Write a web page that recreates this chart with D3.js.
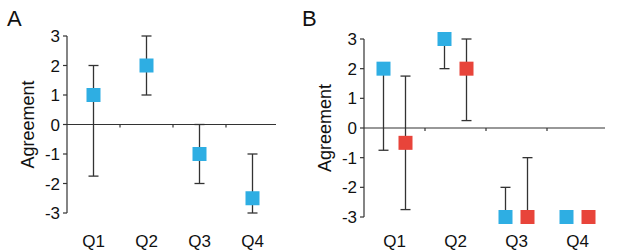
<!DOCTYPE html>
<html lang="en">
<head>
  <meta charset="UTF-8">
  <title>Agreement</title>
  <script src="https://d3js.org/d3.v7.min.js"></script>
  <style>
    body { margin: 0; background: #fff; }
    text { font-family: "Liberation Sans", Arial, sans-serif; fill: #111; }
  </style>
</head>
<body>
  <svg width="617" height="252"></svg>

  <script>
    // Data
    const questions = ["Q1", "Q2", "Q3", "Q4"];
    const yTicks = [-3, -2, -1, 0, 1, 2, 3];

    // Panel A: one series
    const meanA = [1, 2, -1, -2.5];
    const lowA  = [-1.75, 1, -2, -3];
    const highA = [2, 3, 0, -1];

    // Panel B: two series
    const meanBlue = [2, 3, -3, -3];
    const lowBlue  = [-0.75, 2, -3, -3];
    const highBlue = [2, 3, -2, -3];
    const meanRed = [-0.5, 2, -3, -3];
    const lowRed  = [-2.75, 0.25, -3, -3];
    const highRed = [1.75, 3, -1, -3];

    const blue = "#2eaee3", red = "#e8443a";
    const svg = d3.select("svg");

    function panel(opts) {
      const g = svg.append("g");
      const x = d3.scaleBand().domain(questions).range([opts.x0, opts.x1]);
      const y = d3.scaleLinear().domain([-3, 3]).range([opts.yBot, opts.yTop]);

      // y axis
      g.append("line")
        .attr("x1", opts.x0).attr("x2", opts.x0)
        .attr("y1", y(3)).attr("y2", y(-3))
        .attr("stroke", "#333").attr("stroke-width", 1.2);
      g.selectAll(".ytick").data(yTicks).enter().append("line")
        .attr("x1", opts.x0 - 4).attr("x2", opts.x0)
        .attr("y1", d => y(d)).attr("y2", d => y(d))
        .attr("stroke", "#333").attr("stroke-width", 1.2);
      g.selectAll(".ylab").data(yTicks).enter().append("text")
        .attr("x", opts.x0 - 7).attr("y", d => y(d) + 6)
        .attr("text-anchor", "end")
        .style("font-size", "17px")
        .text(d => d);

      // zero line with category ticks
      g.append("line")
        .attr("x1", opts.x0).attr("x2", opts.x1 - 3)
        .attr("y1", y(0)).attr("y2", y(0))
        .attr("stroke", "#333").attr("stroke-width", 1.2);
      g.selectAll(".xtick").data(questions.slice(1)).enter().append("line")
        .attr("x1", d => x(d)).attr("x2", d => x(d))
        .attr("y1", y(0)).attr("y2", y(0) + 3)
        .attr("stroke", "#333").attr("stroke-width", 1.2);

      // category labels
      g.selectAll(".xlab").data(questions).enter().append("text")
        .attr("x", d => x(d) + x.bandwidth() / 2)
        .attr("y", 247)
        .attr("text-anchor", "middle")
        .style("font-size", "17px")
        .text(d => d);

      // axis title
      g.append("text")
        .attr("transform", `translate(${opts.titleX},${y(0)}) rotate(-90)`)
        .attr("text-anchor", "middle")
        .style("font-size", "18px")
        .text("Agreement");

      // panel letter
      g.append("text")
        .attr("x", opts.letterX).attr("y", 26)
        .style("font-size", "22px")
        .text(opts.letter);

      // series
      opts.series.forEach(s => {
        const pts = questions.map((q, i) => ({ q, m: s.mean[i], lo: s.low[i], hi: s.high[i] }));
        const cx = d => x(d.q) + x.bandwidth() / 2 + s.offset;
        const bars = pts.filter(d => d.lo !== d.hi);
        g.selectAll(null).data(bars).enter().append("line")
          .attr("x1", cx).attr("x2", cx)
          .attr("y1", d => y(d.lo)).attr("y2", d => y(d.hi))
          .attr("stroke", "#333").attr("stroke-width", 1.3);
        bars.forEach(d => {
          [d.lo, d.hi].forEach(v => {
            if (v === d.m) return;
            g.append("line")
              .attr("x1", cx(d) - 5).attr("x2", cx(d) + 5)
              .attr("y1", y(v)).attr("y2", y(v))
              .attr("stroke", "#333").attr("stroke-width", 1.3);
          });
        });
        g.selectAll(null).data(pts).enter().append("rect")
          .attr("x", d => cx(d) - 7).attr("y", d => y(d.m) - 7)
          .attr("width", 14).attr("height", 14)
          .attr("fill", s.color);
      });
    }

    panel({
      letter: "A", letterX: 7, titleX: 34,
      x0: 67, x1: 279, yTop: 36, yBot: 213,
      series: [{ mean: meanA, low: lowA, high: highA, color: blue, offset: 0 }]
    });

    panel({
      letter: "B", letterX: 302, titleX: 331,
      x0: 364, x1: 608, yTop: 39, yBot: 217,
      series: [
        { mean: meanBlue, low: lowBlue, high: highBlue, color: blue, offset: -11 },
        { mean: meanRed, low: lowRed, high: highRed, color: red, offset: 11 }
      ]
    });
  </script>
</body>
</html>
